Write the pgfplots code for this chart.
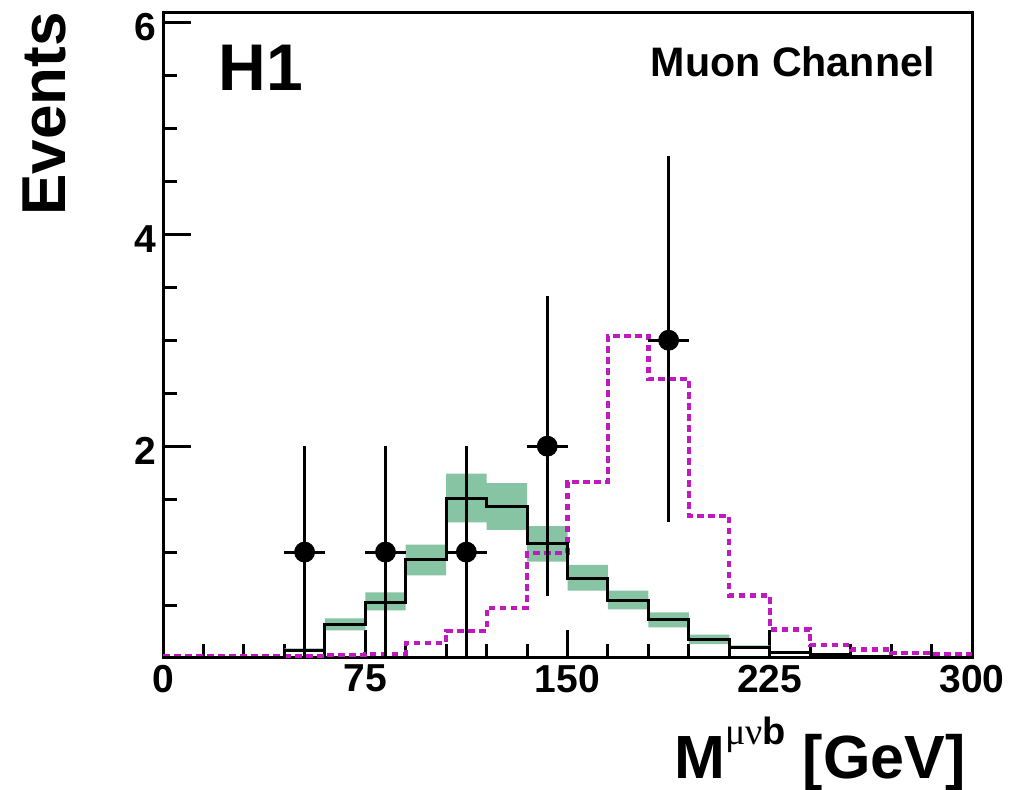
\documentclass[border=0pt]{standalone}
\usepackage{fontspec}
\setmainfont{Liberation Sans}
\newfontfamily\greekfont{Liberation Serif}
\usepackage{pgfplots}
\pgfplotsset{compat=1.18}
\usepgfplotslibrary{fillbetween}
\definecolor{sigmag}{RGB}{191,25,191}
\definecolor{bandgreen}{RGB}{134,196,164}
\begin{document}
\begin{tikzpicture}
\begin{axis}[
  at={(0,0)}, anchor=south west,
  scale only axis,
  width=404.5pt, height=322.5pt,
  xmin=0, xmax=300, ymin=0, ymax=6.09,
  xtick={0,75,150,225,300},
  minor xtick={15,30,45,60,90,105,120,135,165,180,195,210,240,255,270,285},
  ytick={0,2,4,6}, yticklabels={,2,4,6},
  minor ytick={0.5,1,1.5,2.5,3,3.5,4.5,5,5.5},
  tick pos=left, tick align=inside,
  major tick length=14pt, minor tick length=7pt,
  every tick/.style={black, line width=1.5pt},
  axis line style={line width=1.5pt},
  clip=false,
  /pgf/number format/assume math mode=true,
  ticklabel style={font=\bfseries\fontsize{19.5}{19.5}\selectfont},
  yticklabel style={yshift=-2.5pt},
]
% uncertainty band
\addplot[name path=up, const plot mark left, draw=none] coordinates {
(0,0) (15,0) (30,0) (45,0.09) (60,0.375) (75,0.62) (90,1.07) (105,1.74) (120,1.65) (135,1.245)
(150,0.88) (165,0.635) (180,0.43) (195,0.22) (210,0.12) (225,0.06) (240,0.04) (255,0.012) (270,0.008) (285,0.005) (300,0.005)};
\addplot[name path=lo, const plot mark left, draw=none] coordinates {
(0,0) (15,0) (30,0) (45,0.06) (60,0.26) (75,0.45) (90,0.78) (105,1.28) (120,1.21) (135,0.91)
(150,0.635) (165,0.46) (180,0.29) (195,0.13) (210,0.085) (225,0.04) (240,0.03) (255,0.008) (270,0.004) (285,0.002) (300,0.002)};
\addplot[bandgreen, draw=none] fill between[of=up and lo];
% signal (magenta dotted)
\addplot[const plot mark left, sigmag, line width=2.1pt, dash pattern=on 3.3pt off 2.2pt] coordinates {
(0,0.02) (15,0.02) (30,0.02) (45,0.02) (60,0.03) (75,0.04) (90,0.145) (105,0.255) (120,0.475) (135,0.99)
(150,1.66) (165,3.04) (180,2.635) (195,1.34) (210,0.59) (225,0.27) (240,0.12) (255,0.08) (270,0.05) (285,0.04) (300,0.04)};
% SM expectation
\addplot[const plot mark left, black, line width=1.5pt] coordinates {
(0,0) (15,0) (30,0) (45,0.075) (60,0.32) (75,0.525) (90,0.93) (105,1.51) (120,1.43) (135,1.085)
(150,0.75) (165,0.54) (180,0.36) (195,0.17) (210,0.10) (225,0.05) (240,0.035) (255,0.01) (270,0.005) (285,0.003) (300,0.003)};
% data
\addplot[only marks, mark=*, mark size=5pt, black,
  error bars/.cd, x dir=both, x explicit, y dir=both, y explicit,
  error bar style={line width=1.5pt, black}, error mark=none]
coordinates {
(52.5,1) += (7.5,1.0) -= (7.5,1.0)
(82.5,1) += (7.5,1.0) -= (7.5,1.0)
(112.5,1) += (7.5,1.0) -= (7.5,1.0)
(142.5,2) += (7.5,1.42) -= (7.5,1.41)
(187.5,3) += (7.5,1.74) -= (7.5,1.72)
};
\node[anchor=base west, inner sep=0, xshift=27.5pt, yshift=283.7pt,
  font=\bfseries\fontsize{33}{33}\selectfont] at (rel axis cs:0,0) {H1};
\node[anchor=base east, inner sep=0, xshift=-18.5pt, yshift=290.7pt,
  font=\bfseries\fontsize{20.6}{20.6}\selectfont] at (rel axis cs:1,0) {Muon Channel};
\node[xshift=-70.5pt, yshift=0.5pt, anchor=north east, rotate=90, inner sep=0,
  font=\bfseries\fontsize{31}{31}\selectfont] at (rel axis cs:0,1) {Events};
\node[anchor=base east, inner sep=0, xshift=-3pt, yshift=-60pt,
  font=\bfseries\fontsize{30.5}{30.5}\selectfont] at (rel axis cs:1,0)
  {M\raisebox{16.5pt}{\fontsize{19}{19}\selectfont{\greekfont\mdseries μν}b} [GeV]};
\end{axis}
\pgfresetboundingbox
\path (-81.5pt,-66pt) rectangle (434pt,329pt);
\end{tikzpicture}
\end{document}
